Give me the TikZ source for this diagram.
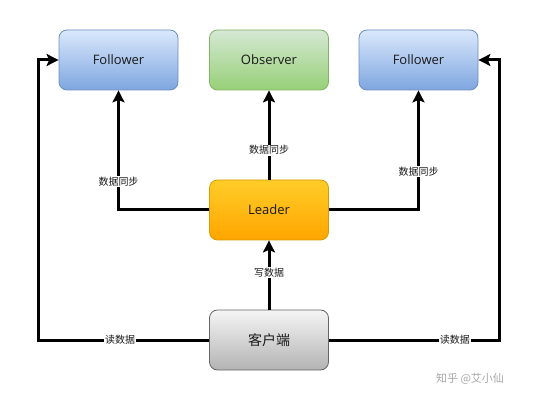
\documentclass[tikz,border=0pt]{standalone}
\usepackage{fontspec}
\setmainfont{Open Sans}
\newfontfamily\cjk{Noto Sans CJK SC}
\usetikzlibrary{arrows.meta,shadings}
\definecolor{fbtop}{HTML}{DAE8FC}\definecolor{fbbot}{HTML}{7EA6E0}\definecolor{fbline}{HTML}{6C8EBF}
\definecolor{obtop}{HTML}{D5E8D4}\definecolor{obbot}{HTML}{97D077}\definecolor{obline}{HTML}{82B366}
\definecolor{ldtop}{HTML}{FFCD28}\definecolor{ldbot}{HTML}{FFA500}\definecolor{ldline}{HTML}{D79B00}
\definecolor{cltop}{HTML}{F5F5F5}\definecolor{clbot}{HTML}{B3B3B3}\definecolor{clline}{HTML}{666666}
\definecolor{txt}{HTML}{1A1A1A}
\tikzset{
  box/.style={rounded corners=8pt, minimum width=119pt, minimum height=60pt, line width=0.8pt, text=txt, font=\fontsize{13}{15}\selectfont},
  follower/.style={box, draw=fbline, top color=fbtop, bottom color=fbbot},
  observer/.style={box, draw=obline, top color=obtop, bottom color=obbot},
  leader/.style={box, draw=ldline, top color=ldtop, bottom color=ldbot},
  client/.style={box, draw=clline, top color=cltop, bottom color=clbot},
  conn/.style={line width=3pt, -{Stealth[length=12pt,width=12pt,inset=2.5pt]}},
  lbl/.style={fill=white, inner sep=1pt, text=txt, font=\cjk\fontsize{10}{12}\selectfont},
}
\begin{document}
\begin{tikzpicture}[x=1pt,y=-1pt]
\useasboundingbox (0,0) rectangle (539,401);
\node[follower] (f1) at (118.5,60) {Follower};
\node[observer] (ob) at (269,60) {Observer};
\node[follower] (f2) at (418.5,60) {Follower};
\node[leader] (ld) at (269,210) {Leader};
\node[client] (cl) at (269,340) {\cjk\fontsize{14}{16}\selectfont 客户端};
\coordinate (lc) at (38,340);
\coordinate (rc) at (499,340);
\draw[conn] (ld.west) -| node[lbl, pos=0.62] {数据同步} (f1.south);
\draw[conn] (ld.east) -| node[lbl, pos=0.66] {数据同步} (f2.south);
\draw[conn] (ld.north) -- node[lbl, pos=0.33] {数据同步} (ob.south);
\draw[conn] (cl.north) -- node[lbl, pos=0.54] {写数据} (ld.south);
\draw[conn] (cl.west) -- node[lbl, pos=0.52] {读数据} (lc) |- (f1.west);
\draw[conn] (cl.east) -- node[lbl, pos=0.74] {读数据} (rc) |- (f2.east);
\node[text=gray!70, font=\cjk\fontsize{11}{13}\selectfont] (wm) at (470,379) {知乎 @艾小仙};
\end{tikzpicture}
\end{document}
